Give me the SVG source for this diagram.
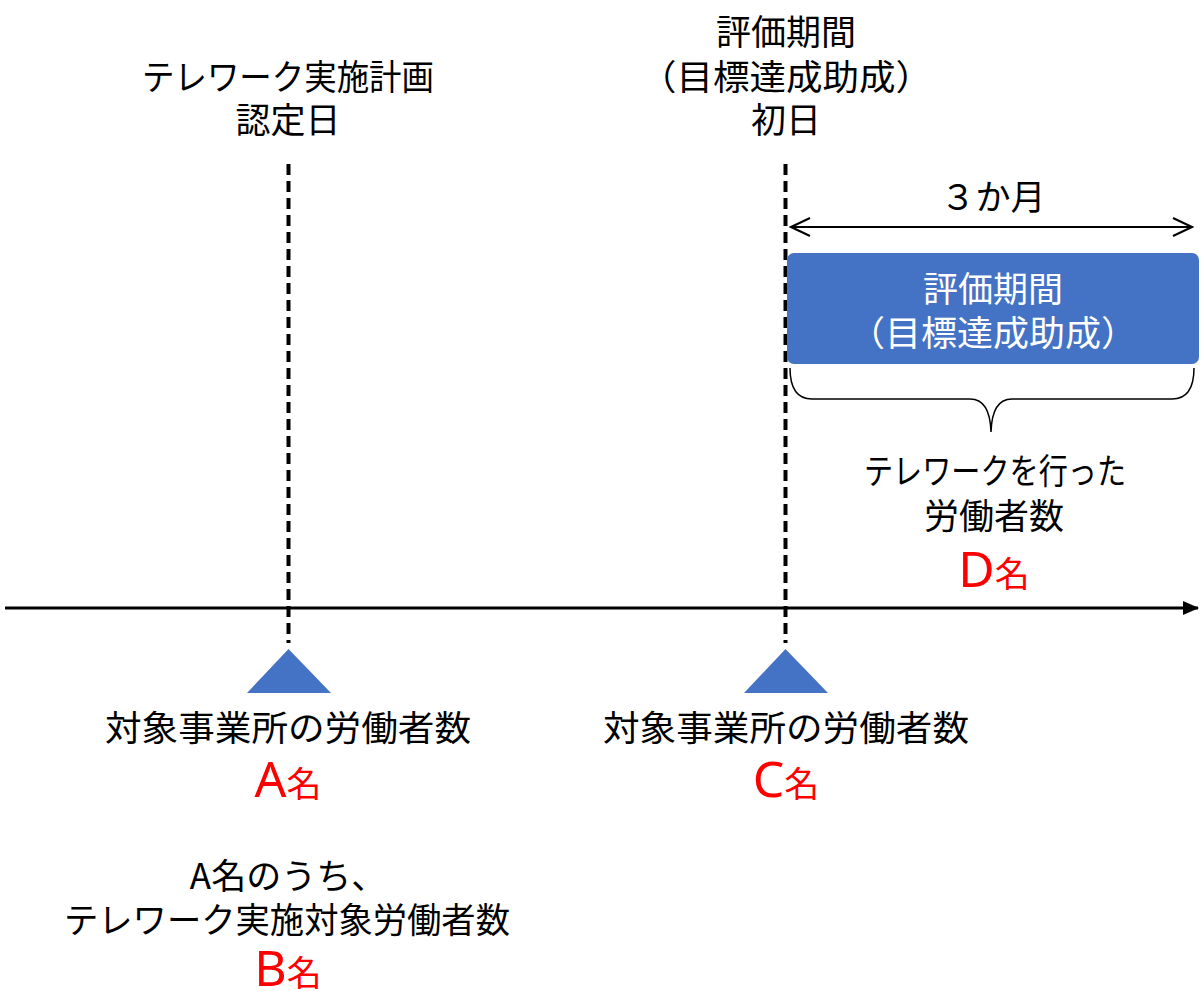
<svg xmlns="http://www.w3.org/2000/svg" width="1203" height="991" viewBox="0 0 1203 991">
<style>
  .t { font-family: "Noto Sans CJK JP", "Noto Sans", sans-serif; font-size: 35px; fill: #000; text-anchor: middle; }
  .w { fill: #fff; }
  .red { font-family: "Noto Sans", "Noto Sans CJK JP", sans-serif; fill: #ff0000; text-anchor: middle; }
  .big { font-size: 50px; }
  .sm { font-family: "Noto Sans CJK JP", sans-serif; font-size: 35px; }
  .dash { stroke: #000; stroke-width: 4; stroke-dasharray: 11 6; fill: none; }
  .tri { fill: #4472C4; }
</style>
<defs>
  <marker id="ah" markerWidth="16" markerHeight="14" refX="15" refY="7" orient="auto" markerUnits="userSpaceOnUse">
    <path d="M0,0 L16,7 L0,14 Z" fill="#000"/>
  </marker>
  <marker id="chev" markerWidth="22" markerHeight="22" refX="20" refY="11" orient="auto-start-reverse" markerUnits="userSpaceOnUse">
    <path d="M1,2 L20,11 L1,20" fill="none" stroke="#000" stroke-width="2"/>
  </marker>
</defs>

<g id="connectors">
  <line x1="5" y1="608" x2="1198" y2="608" stroke="#000" stroke-width="3" marker-end="url(#ah)"/>
  <line class="dash" x1="288.5" y1="164" x2="288.5" y2="643"/>
  <line class="dash" x1="785.5" y1="164" x2="785.5" y2="643"/>
  <line x1="791" y1="227" x2="1192" y2="227" stroke="#000" stroke-width="2" marker-start="url(#chev)" marker-end="url(#chev)"/>
  <path d="M790,368 Q790,399 812,399 L970,399 Q990,399 991,432 Q992,399 1012,399 L1172,399 Q1194,399 1194,368" fill="none" stroke="#000" stroke-width="1.5"/>
</g>

<g id="label-nintei">
  <text class="t" x="288" y="90" textLength="292" lengthAdjust="spacingAndGlyphs">テレワーク実施計画</text>
  <text class="t" x="288" y="133">認定日</text>
</g>

<g id="label-hyoka-start">
  <text class="t" x="786" y="45">評価期間</text>
  <text class="t" x="786" y="90" textLength="292" lengthAdjust="spacingAndGlyphs">（目標達成助成）</text>
  <text class="t" x="786" y="133">初日</text>
</g>

<g id="label-3months">
  <text class="t" x="993" y="210">３か月</text>
</g>

<g id="period-box">
  <rect x="787" y="253" width="412" height="111" rx="7" fill="#4472C4"/>
  <text class="t w" x="993" y="302">評価期間</text>
  <text class="t w" x="993" y="346" textLength="288" lengthAdjust="spacingAndGlyphs">（目標達成助成）</text>
</g>

<g id="label-d">
  <text class="t" x="995" y="484" textLength="262" lengthAdjust="spacingAndGlyphs">テレワークを行った</text>
  <text class="t" x="994" y="529">労働者数</text>
  <text class="red" x="994" y="587"><tspan class="big">D</tspan><tspan class="sm">名</tspan></text>
</g>

<g id="marker-a">
  <polygon class="tri" points="288.5,649 331,693 247,693"/>
  <text class="t" x="288" y="741" textLength="366" lengthAdjust="spacingAndGlyphs">対象事業所の労働者数</text>
  <text class="red" x="288" y="797"><tspan class="big">A</tspan><tspan class="sm">名</tspan></text>
</g>

<g id="marker-c">
  <polygon class="tri" points="785.5,649 828,693 744,693"/>
  <text class="t" x="786" y="741" textLength="366" lengthAdjust="spacingAndGlyphs">対象事業所の労働者数</text>
  <text class="red" x="786" y="797"><tspan class="big">C</tspan><tspan class="sm">名</tspan></text>
</g>

<g id="label-b">
  <text class="t" x="288" y="889">A名のうち、</text>
  <text class="t" x="287" y="933" textLength="446" lengthAdjust="spacingAndGlyphs">テレワーク実施対象労働者数</text>
  <text class="red" x="288" y="986"><tspan class="big">B</tspan><tspan class="sm">名</tspan></text>
</g>
</svg>
